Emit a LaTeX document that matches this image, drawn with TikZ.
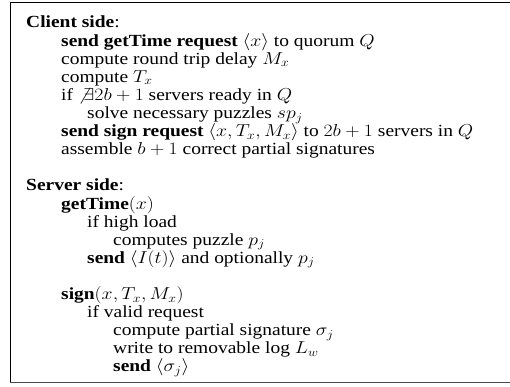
\documentclass[tikz,border=0pt]{standalone}
\usepackage[no-math]{fontspec}
\setmainfont{Liberation Serif}
\usepackage{amsmath}
\usepackage{graphicx}
\usepackage{tikz}

% text of the listing is a little wider than it is tall
\newcommand{\wideline}[1]{\scalebox{1.145}[1]{#1}}
\tikzset{codeline/.style={anchor=base west,inner sep=0pt,font=\fontsize{17}{18.1}\selectfont}}

\begin{document}
\begin{tikzpicture}[x=1pt,y=1pt]
\useasboundingbox (0,0) rectangle (510,386);
\draw (10,383.5) -- (510,383.5);
\draw (10,383.5) -- (10,3.5);
\draw[line width=0.8pt,black!70] (10,3.5) -- (510,3.5);

\begin{scope}[shift={(0,358)},y=-18.1pt]
% client
\node[codeline] (client) at (26,0) {\wideline{\textbf{Client side}:}};
\node[codeline] (c1) at (61,1) {\wideline{\textbf{send getTime request} $\langle x\rangle$ to quorum $Q$}};
\node[codeline] (c2) at (61,2) {\wideline{compute round trip delay $M_x$}};
\node[codeline] (c3) at (61,3) {\wideline{compute $T_x$}};
\node[codeline] (c4) at (61,4) {\wideline{if $\not\exists 2b+1$ servers ready in $Q$}};
\node[codeline] (c5) at (87,5) {\wideline{solve necessary puzzles $sp_j$}};
\node[codeline] (c6) at (61,6) {\wideline{\textbf{send sign request} $\langle x,T_x,M_x\rangle$ to $2b+1$ servers in $Q$}};
\node[codeline] (c7) at (61,7) {\wideline{assemble $b+1$ correct partial signatures}};
% server
\node[codeline] (server) at (26,9) {\wideline{\textbf{Server side}:}};
\node[codeline] (s1) at (61,10) {\wideline{\textbf{getTime}$(x)$}};
\node[codeline] (s2) at (87,11) {\wideline{if high load}};
\node[codeline] (s3) at (113,12) {\wideline{computes puzzle $p_j$}};
\node[codeline] (s4) at (87,13) {\wideline{\textbf{send} $\langle I(t)\rangle$ and optionally $p_j$}};
\node[codeline] (s5) at (61,15) {\wideline{\textbf{sign}$(x,T_x,M_x)$}};
\node[codeline] (s6) at (87,16) {\wideline{if valid request}};
\node[codeline] (s7) at (113,17) {\wideline{compute partial signature $\sigma_j$}};
\node[codeline] (s8) at (113,18) {\wideline{write to removable log $L_w$}};
\node[codeline] (s9) at (113,19) {\wideline{\textbf{send} $\langle\sigma_j\rangle$}};
\end{scope}
\end{tikzpicture}
\end{document}
